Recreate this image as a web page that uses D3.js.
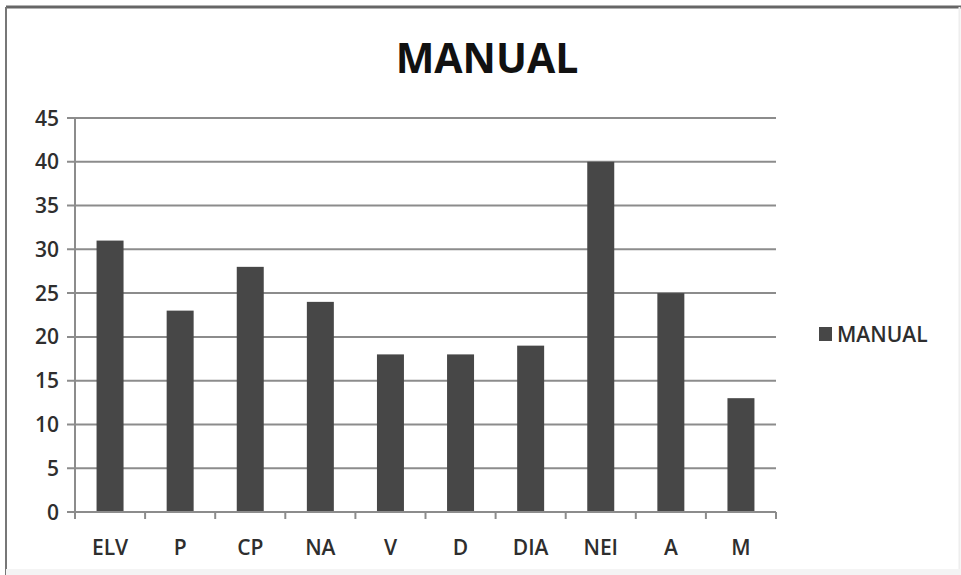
<!DOCTYPE html>
<html>
<head>
<meta charset="utf-8">
<script src="https://cdn.jsdelivr.net/npm/d3@7"></script>
<style>
  html, body { margin: 0; padding: 0; background: #fff; }
  svg { display: block; font-family: 'Open Sans', sans-serif; }
</style>
</head>
<body>
<svg id="chart"></svg>
<script>
const categories = ['ELV', 'P', 'CP', 'NA', 'V', 'D', 'DIA', 'NEI', 'A', 'M'];
const values = [31, 23, 28, 24, 18, 18, 19, 40, 25, 13];
const yTicks = [0, 5, 10, 15, 20, 25, 30, 35, 40, 45];
const seriesName = 'MANUAL';

const width = 961, height = 575;
const margin = {top: 118, right: 185, bottom: 63, left: 75};

const svg = d3.select('#chart')
    .attr('width', width)
    .attr('height', height);

// frame
svg.append('rect')
    .attr('x', 0).attr('y', 0)
    .attr('width', width).attr('height', height)
    .attr('fill', '#fff');
svg.append('line').attr('x1', 6).attr('x2', width).attr('y1', 7).attr('y2', 7)
    .attr('stroke', '#666').attr('stroke-width', 3);
svg.append('line').attr('x1', 6).attr('x2', 6).attr('y1', 7).attr('y2', height)
    .attr('stroke', '#777').attr('stroke-width', 2);
svg.append('line').attr('x1', 959.5).attr('x2', 959.5).attr('y1', 7).attr('y2', height)
    .attr('stroke', '#eee').attr('stroke-width', 2);
svg.append('line').attr('x1', 6).attr('x2', width).attr('y1', 572).attr('y2', 572)
    .attr('stroke', '#f4f4f4').attr('stroke-width', 6);

const innerW = width - margin.left - margin.right;
const innerH = height - margin.top - margin.bottom;

const x = d3.scaleBand()
    .domain(categories)
    .range([margin.left, margin.left + innerW])
    .paddingInner(0.615)
    .paddingOuter(0.3075);

const xOuter = d3.scaleBand()
    .domain(categories)
    .range([margin.left, margin.left + innerW]);

const y = d3.scaleLinear()
    .domain([0, 45])
    .range([margin.top + innerH, margin.top]);

// gridlines
svg.append('g')
    .selectAll('line')
    .data(yTicks)
    .join('line')
    .attr('x1', margin.left - 8)
    .attr('x2', margin.left + innerW)
    .attr('y1', d => y(d))
    .attr('y2', d => y(d))
    .attr('stroke', '#8c8c8c')
    .attr('stroke-width', 2);

// y axis line
svg.append('line')
    .attr('x1', margin.left).attr('x2', margin.left)
    .attr('y1', y(45)).attr('y2', y(0))
    .attr('stroke', '#8c8c8c').attr('stroke-width', 2);

// y tick labels
svg.append('g')
    .selectAll('text')
    .data(yTicks)
    .join('text')
    .attr('x', 59)
    .attr('y', d => y(d))
    .attr('dy', '0.36em')
    .attr('text-anchor', 'end')
    .attr('fill', '#2e2e2e')
    .style('font-size', '21px')
    .style('font-weight', 600)
    .text(d => d);

// bars
svg.append('g')
    .selectAll('rect')
    .data(values)
    .join('rect')
    .attr('x', (d, i) => x(categories[i]))
    .attr('y', d => y(d))
    .attr('width', x.bandwidth())
    .attr('height', d => y(0) - y(d))
    .attr('fill', '#474747');

// x axis line and ticks
svg.append('line')
    .attr('x1', margin.left).attr('x2', margin.left + innerW)
    .attr('y1', y(0)).attr('y2', y(0))
    .attr('stroke', '#8c8c8c').attr('stroke-width', 2);

const bounds = categories.map(c => xOuter(c)).concat([margin.left + innerW]);
svg.append('g')
    .selectAll('line')
    .data(bounds)
    .join('line')
    .attr('x1', d => d).attr('x2', d => d)
    .attr('y1', y(0)).attr('y2', y(0) + 7)
    .attr('stroke', '#8c8c8c').attr('stroke-width', 2);

// x labels
svg.append('g')
    .selectAll('text')
    .data(categories)
    .join('text')
    .attr('x', d => xOuter(d) + xOuter.bandwidth() / 2)
    .attr('y', 555)
    .attr('text-anchor', 'middle')
    .attr('fill', '#2e2e2e')
    .style('font-size', '21px')
    .style('font-weight', 600)
    .text(d => d);

// title
svg.append('text')
    .attr('x', 487)
    .attr('y', 73)
    .attr('text-anchor', 'middle')
    .attr('fill', '#111')
    .style('font-size', '41px')
    .style('font-weight', 'bold')
    .text(seriesName);

// legend
const legend = svg.append('g').attr('transform', 'translate(819, 327)');
legend.append('rect')
    .attr('width', 13).attr('height', 14)
    .attr('fill', '#474747');
legend.append('text')
    .attr('x', 18)
    .attr('y', 15)
    .attr('fill', '#2e2e2e')
    .style('font-size', '21px')
    .style('font-weight', 600)
    .text(seriesName);
</script>
</body>
</html>
